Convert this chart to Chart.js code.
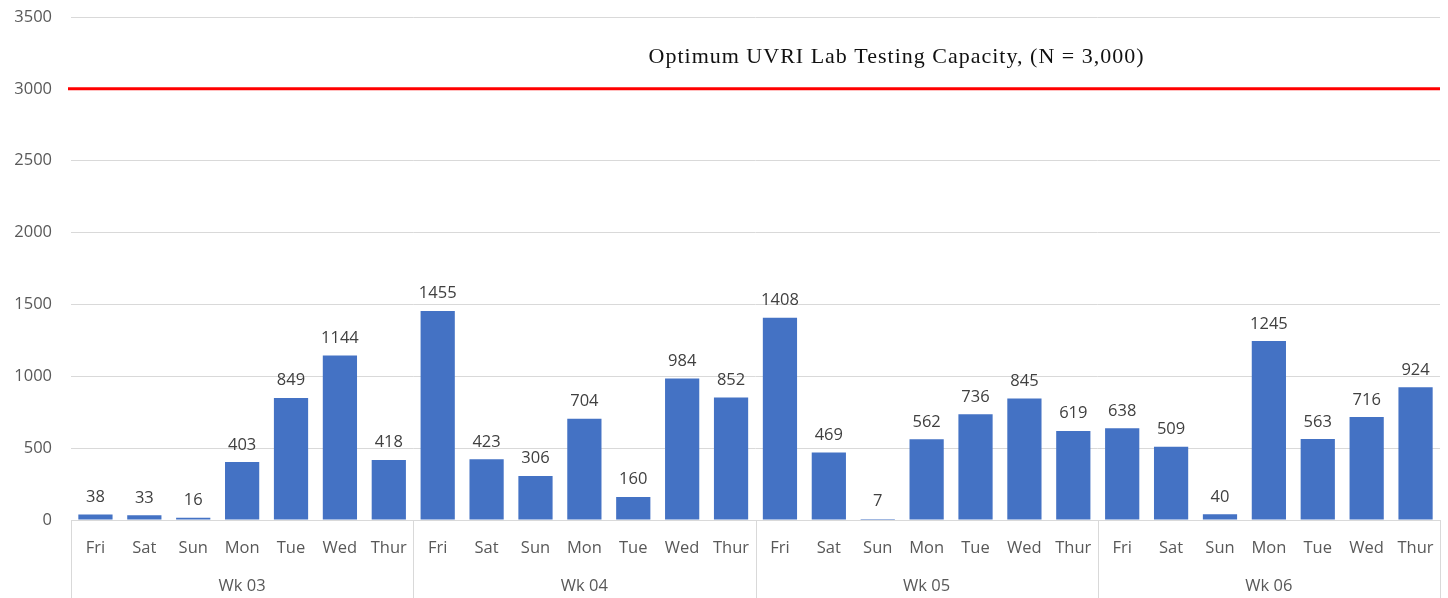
<!DOCTYPE html>
<html>
<head>
<meta charset="utf-8">
<script src="https://cdn.jsdelivr.net/npm/chart.js@4"></script>
<style>
  html, body { margin: 0; padding: 0; background: #fff; }
</style>
</head>
<body>
<canvas id="myChart" width="1448" height="598"></canvas>
<script>
var days = ["Fri", "Sat", "Sun", "Mon", "Tue", "Wed", "Thur",
            "Fri", "Sat", "Sun", "Mon", "Tue", "Wed", "Thur",
            "Fri", "Sat", "Sun", "Mon", "Tue", "Wed", "Thur",
            "Fri", "Sat", "Sun", "Mon", "Tue", "Wed", "Thur"];
var weeks = ["Wk 03", "Wk 04", "Wk 05", "Wk 06"];
var tests = [38, 33, 16, 403, 849, 1144, 418,
             1455, 423, 306, 704, 160, 984, 852,
             1408, 469, 7, 562, 736, 845, 619,
             638, 509, 40, 1245, 563, 716, 924];
var capacity = 3000;
var capacityText = "Optimum UVRI Lab Testing Capacity, (N = 3,000)";
var yTicks = [0, 500, 1000, 1500, 2000, 2500, 3000, 3500];

// red capacity line + caption, week separators, value labels
var extras = {
    id: "extras",
    afterDatasetsDraw: function(chart){
        var ctx = chart.ctx;
        var area = chart.chartArea;
        var y = chart.scales.y;
        var x = chart.scales.x;
        ctx.save();

        // value labels
        var meta = chart.getDatasetMeta(0);
        ctx.font = "16.5px 'Open Sans'";
        ctx.fillStyle = "#404040";
        ctx.textAlign = "center";
        ctx.textBaseline = "bottom";
        meta.data.forEach(function(bar, i){
            ctx.fillText(tests[i], bar.x, bar.y - 9);
        });

        // capacity line
        var yc = y.getPixelForValue(capacity);
        ctx.strokeStyle = "#ff0000";
        ctx.lineWidth = 3;
        ctx.beginPath();
        ctx.moveTo(area.left - 3, yc);
        ctx.lineTo(area.right, yc);
        ctx.stroke();

        ctx.font = "22px 'Liberation Serif'";
        ctx.letterSpacing = "1px";
        ctx.fillStyle = "#111";
        ctx.textBaseline = "middle";
        ctx.fillText(capacityText, area.left + (area.right - area.left) * 0.603, y.getPixelForValue(3220));
        ctx.letterSpacing = "0px";

        // week separators
        ctx.strokeStyle = "#d9d9d9";
        ctx.lineWidth = 1;
        var per = days.length / weeks.length;
        for (var w = 0; w <= weeks.length; w++) {
            var px;
            if (w === 0) px = area.left;
            else if (w === weeks.length) px = area.right;
            else px = (x.getPixelForValue(w * per - 1) + x.getPixelForValue(w * per)) / 2;
            px = Math.round(px) + 0.5;
            ctx.beginPath();
            ctx.moveTo(px, area.bottom);
            ctx.lineTo(px, chart.height);
            ctx.stroke();
        }
        ctx.restore();
    }
};

var myChart = document.getElementById("myChart").getContext("2d");
var myChart = new Chart(myChart, {
    type: "bar",
    data: {
        labels: days,
        datasets: [{
            label: "Tests",
            data: tests,
            backgroundColor: "#4472c4",
            barPercentage: 0.7,
            categoryPercentage: 1.0,
            xAxisID: "x",
            yAxisID: "y"
        }]
    },
    options: {
        responsive: false,
        animation: false,
        layout: { padding: { top: 17, right: 8, left: 0, bottom: 0 } },
        plugins: {
            legend: { display: false },
            tooltip: { enabled: false }
        },
        scales: {
            y: {
                min: 0,
                max: 3500,
                afterBuildTicks: function(axis){
                    axis.ticks = yTicks.map(function(v){ return { value: v }; });
                },
                afterFit: function(axis){
                    axis.width = 71;
                    axis.paddingTop = 0;
                    axis.paddingBottom = 0;
                },
                border: { display: false },
                grid: { color: "#d9d9d9", drawTicks: false },
                ticks: {
                    padding: 19,
                    color: "#595959",
                    font: { family: "Open Sans", size: 16.5 },
                    callback: function(v){ return String(v); }
                }
            },
            x: {
                type: "category",
                position: "bottom",
                afterFit: function(axis){
                    axis.height = 48;
                    axis.paddingLeft = 0;
                    axis.paddingRight = 0;
                },
                grid: { display: false },
                border: { color: "#d9d9d9" },
                ticks: {
                    autoSkip: false,
                    maxRotation: 0,
                    padding: 10,
                    color: "#595959",
                    font: { family: "Open Sans", size: 16.5 }
                }
            },
            x2: {
                type: "category",
                position: "bottom",
                labels: weeks,
                afterFit: function(axis){
                    axis.height = 30;
                    axis.paddingLeft = 0;
                    axis.paddingRight = 0;
                },
                grid: { display: false },
                border: { display: false },
                ticks: {
                    autoSkip: false,
                    maxRotation: 0,
                    padding: 0,
                    color: "#595959",
                    font: { family: "Open Sans", size: 16.5 }
                }
            }
        }
    },
    plugins: [extras]
});
</script>
</body>
</html>
